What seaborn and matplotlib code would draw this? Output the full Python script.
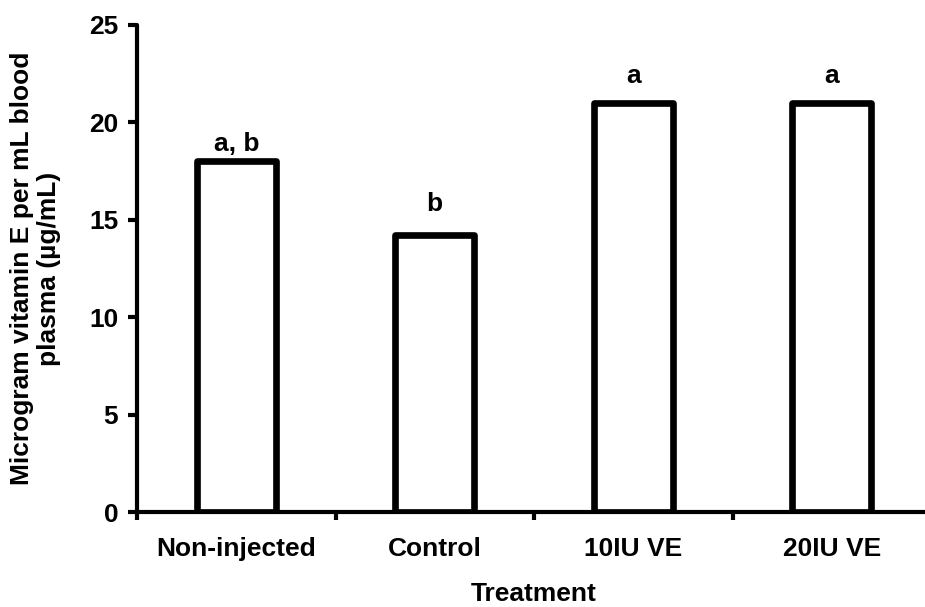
import matplotlib
matplotlib.use("Agg")
import matplotlib.pyplot as plt
import seaborn as sns
import pandas as pd
from matplotlib.ticker import FixedLocator

# Plasma vitamin E by treatment group
treatments = ["Non-injected", "Control", "10IU VE", "20IU VE"]
vitamin_e = [18.0, 14.2, 21.0, 21.0]
letters = ["a, b", "b", "a", "a"]
letter_heights = [18.9, 15.8, 22.4, 22.4]
y_ticks = [0, 5, 10, 15, 20, 25]

df = pd.DataFrame({"Treatment": treatments, "VitE": vitamin_e})

sns.set_theme(style="ticks")
plt.rcParams["font.family"] = ["Liberation Sans", "DejaVu Sans"]
plt.rcParams["font.weight"] = "bold"
plt.rcParams["text.color"] = "black"
plt.rcParams["axes.labelcolor"] = "black"
plt.rcParams["xtick.color"] = "black"
plt.rcParams["ytick.color"] = "black"

FS = 19

fig = plt.figure(figsize=(9.25, 6.07), dpi=100)
ax = fig.add_axes([137 / 925, 95 / 607, 794 / 925, 487 / 607])

sns.barplot(data=df, x="Treatment", y="VitE", ax=ax, width=0.4,
            color="white", edgecolor="black", linewidth=4.8, saturation=1)
for p in ax.patches:
    p.set_facecolor("white")
    p.set_edgecolor("black")
    p.set_joinstyle("round")
    p.set_zorder(3)

for i, (lab, h) in enumerate(zip(letters, letter_heights)):
    ax.text(i, h, lab, ha="center", va="center", fontsize=FS,
            fontweight="bold", color="black")

ax.set_xlim(-0.5, 3.5)
ax.set_ylim(0, 25)
ax.set_yticks(y_ticks)
ax.set_yticklabels([str(t) for t in y_ticks], fontsize=FS, fontweight="bold")
ax.set_xticks(range(len(treatments)))
ax.set_xticklabels(treatments, fontsize=FS, fontweight="bold")
ax.xaxis.set_minor_locator(FixedLocator([-0.5, 0.5, 1.5, 2.5]))

ax.tick_params(axis="x", which="major", length=0, pad=18, labelcolor="black")
ax.tick_params(axis="x", which="minor", length=6, width=3, direction="out", color="black")
ax.tick_params(axis="y", which="major", length=6.5, width=3, pad=7,
               color="black", labelcolor="black")

for side in ("top", "right"):
    ax.spines[side].set_visible(False)
for side in ("left", "bottom"):
    ax.spines[side].set_linewidth(3)
    ax.spines[side].set_color("black")
    ax.spines[side].set_zorder(4)
ax.spines["left"].set_capstyle("round")

ax.set_xlabel("Treatment", fontsize=FS, fontweight="bold", labelpad=15, color="black")
ax.set_ylabel("Microgram vitamin E per mL blood\nplasma (\u00b5g/mL)", fontsize=FS,
              fontweight="bold", labelpad=20, linespacing=1.15, color="black")
ax.set_facecolor("white")
fig.patch.set_facecolor("white")

fig.savefig("out.png", dpi=100, facecolor="white")
